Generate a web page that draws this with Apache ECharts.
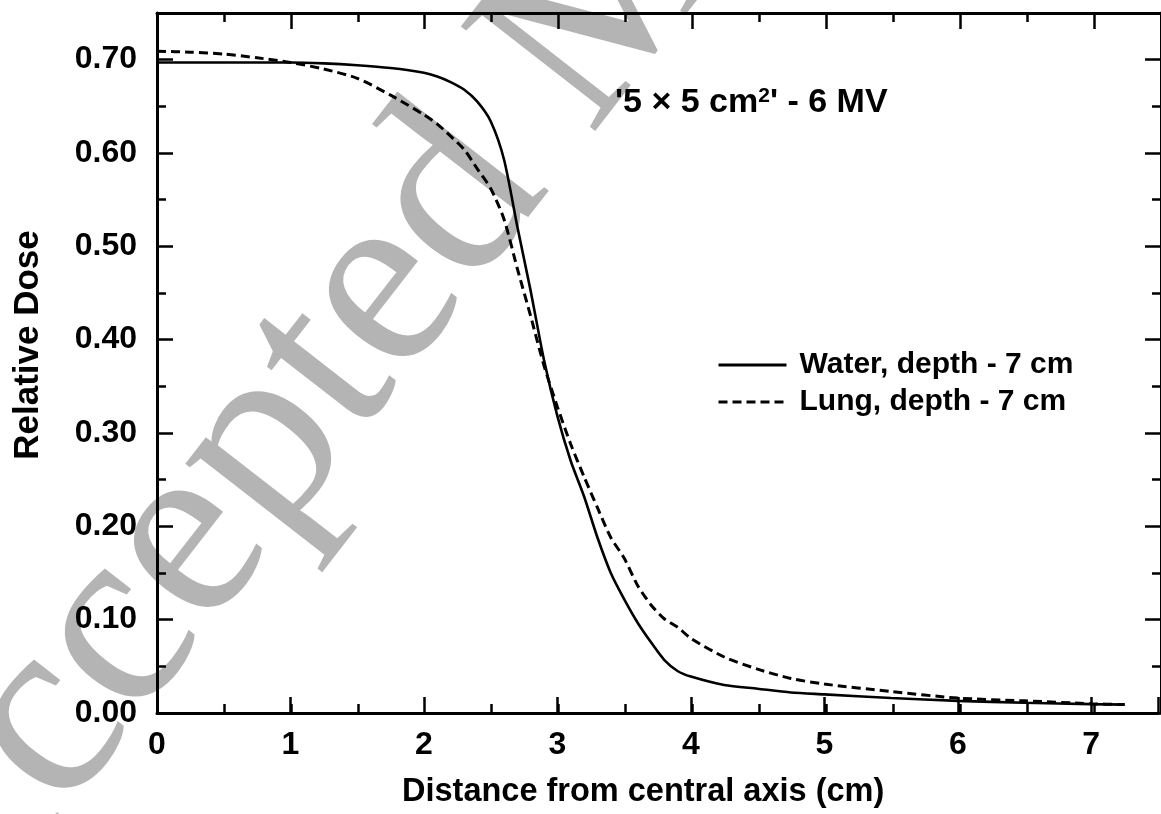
<!DOCTYPE html>
<html><head><meta charset="utf-8">
<script src="https://cdn.jsdelivr.net/npm/echarts@6/dist/echarts.min.js"></script>
<style>html,body{margin:0;padding:0;background:#fff}#c{width:1161px;height:814px}</style>
</head><body><div id="c"></div>
<script>
// ---- data ----
const distance = [0, 0.25, 0.5, 0.75, 1.0, 1.25, 1.5, 1.75, 2.0, 2.1, 2.2, 2.3, 2.4, 2.5, 2.6, 2.7, 2.8, 2.9, 3.0, 3.1, 3.2, 3.3, 3.4, 3.5, 3.6, 3.7, 3.8, 3.9, 4.0, 4.25, 4.5, 4.75, 5.0, 5.5, 6.0, 6.5, 7.0, 7.25];
const waterDose = [0.697, 0.697, 0.697, 0.697, 0.697, 0.696, 0.694, 0.691, 0.686, 0.682, 0.676, 0.668, 0.655, 0.634, 0.593, 0.521, 0.452, 0.378, 0.318, 0.270, 0.232, 0.188, 0.150, 0.122, 0.097, 0.076, 0.057, 0.045, 0.039, 0.030, 0.026, 0.022, 0.020, 0.016, 0.013, 0.011, 0.0095, 0.009];
const lungDose  = [0.709, 0.708, 0.706, 0.702, 0.697, 0.690, 0.680, 0.662, 0.641, 0.631, 0.618, 0.604, 0.583, 0.562, 0.529, 0.476, 0.425, 0.372, 0.328, 0.288, 0.253, 0.220, 0.188, 0.166, 0.137, 0.116, 0.101, 0.092, 0.080, 0.060, 0.047, 0.037, 0.031, 0.023, 0.016, 0.013, 0.010, 0.009];
const seriesNames = ['Water, depth - 7 cm', 'Lung, depth - 7 cm'];
const xTickLabels = ['0', '1', '2', '3', '4', '5', '6', '7'];
const yTickLabels = ['0.00', '0.10', '0.20', '0.30', '0.40', '0.50', '0.60', '0.70'];
const xAxisTitle = 'Distance from central axis (cm)';
const yAxisTitle = 'Relative Dose';
const annotation = "'5 × 5 cm{s|2}' - 6 MV";
const watermark = 'Accepted Manuscript';

const FONT = "'Liberation Sans', Arial, Helvetica, sans-serif";
const chart = echarts.init(document.getElementById('c'), null, {renderer: 'canvas'});

function pick(labels, step) {
  return function (v) {
    const i = Math.round(v / step);
    return (Math.abs(v - i * step) < 1e-6 && i >= 0 && i < labels.length) ? labels[i] : '';
  };
}
const gridRect = {left: 157, top: 13, width: 1007, height: 700};
const lineCol = '#000';
function xAx(grid, pos, interval, tickLen, showLine, showLabel) {
  return {
    gridIndex: grid, type: 'value', position: pos, min: 0, max: 7.5, interval: interval,
    axisLine: {show: showLine, onZero: false, lineStyle: {color: lineCol, width: 3}},
    axisTick: {show: true, inside: true, length: tickLen, lineStyle: {color: lineCol, width: 2.5}},
    axisLabel: {show: showLabel, margin: 16, fontSize: 32, fontWeight: 'bold', color: '#000', fontFamily: FONT, formatter: pick(xTickLabels, 1)},
    splitLine: {show: false}
  };
}
function yAx(grid, pos, interval, tickLen, showLine, showLabel) {
  return {
    gridIndex: grid, type: 'value', position: pos, min: 0, max: 0.75, interval: interval,
    axisLine: {show: showLine, onZero: false, lineStyle: {color: lineCol, width: 3}},
    axisTick: {show: true, inside: true, length: tickLen, lineStyle: {color: lineCol, width: 2.5}},
    axisLabel: {show: showLabel, margin: 20, fontSize: 32, fontWeight: 'bold', color: '#000', fontFamily: FONT, formatter: pick(yTickLabels, 0.1)},
    splitLine: {show: false}
  };
}

const option = {
  backgroundColor: '#fff',
  animation: false,
  grid: [0, 1, 2, 3].map(() => Object.assign({containLabel: false}, gridRect)),
  xAxis: [
    xAx(0, 'bottom', 1, 16, true, true),
    xAx(1, 'bottom', 0.5, 9, false, false),
    xAx(2, 'top', 1, 16, true, false),
    xAx(3, 'top', 0.5, 9, false, false)
  ],
  yAxis: [
    yAx(0, 'left', 0.1, 16, true, true),
    yAx(1, 'left', 0.05, 9, false, false),
    yAx(2, 'right', 0.1, 16, true, false),
    yAx(3, 'right', 0.05, 9, false, false)
  ],
  legend: {
    orient: 'vertical', left: 712, top: 345, itemWidth: 68, itemHeight: 14, itemGap: 7,
    itemStyle: {color: 'rgba(0,0,0,0)', borderWidth: 0, opacity: 0},
    lineStyle: {width: 3},
    textStyle: {fontSize: 30, fontWeight: 'bold', fontFamily: FONT, color: '#000', lineHeight: 30, padding: [0, 0, 0, 8]},
    data: seriesNames
  },
  graphic: [
    {type: 'text', silent: true, z: -10, x: -3, y: 1001, rotation: 0.91,
     style: {text: watermark, fontFamily: "'Liberation Serif', 'Times New Roman', serif", fontSize: 260, fill: '#b4b4b4', align: 'left', verticalAlign: 'bottom', textAlign: 'left', textVerticalAlign: 'bottom'}},
    {type: 'text', silent: true, z: 10, x: 615, y: 103,
     style: {text: annotation, fontFamily: FONT, fontSize: 34, fontWeight: 'bold', fill: '#000', align: 'left', verticalAlign: 'middle',
             rich: {s: {fontFamily: FONT, fontSize: 21, fontWeight: 'bold', fill: '#000', verticalAlign: 'top'}}}},
    {type: 'text', silent: true, z: 10, x: 28, y: 345, rotation: Math.PI / 2,
     style: {text: yAxisTitle, fontFamily: FONT, fontSize: 35, fontWeight: 'bold', fill: '#000', align: 'center', verticalAlign: 'middle'}},
    {type: 'text', silent: true, z: 10, x: 402, y: 792,
     style: {text: xAxisTitle, fontFamily: FONT, fontSize: 32.5, fontWeight: 'bold', fill: '#000', align: 'left', verticalAlign: 'middle'}}
  ],
  series: [
    {name: seriesNames[0], type: 'line', xAxisIndex: 0, yAxisIndex: 0, symbol: 'none', smooth: 0.25,
     data: distance.map((d, i) => [d, waterDose[i]]),
     lineStyle: {color: '#000', width: 2.6, type: 'solid'}, itemStyle: {color: '#000'}},
    {name: seriesNames[1], type: 'line', xAxisIndex: 0, yAxisIndex: 0, symbol: 'none', smooth: 0.25,
     data: distance.map((d, i) => [d, lungDose[i]]),
     lineStyle: {color: '#000', width: 3, type: [9, 5]}, itemStyle: {color: '#000'}}
  ]
};
chart.setOption(option);
</script></body></html>
